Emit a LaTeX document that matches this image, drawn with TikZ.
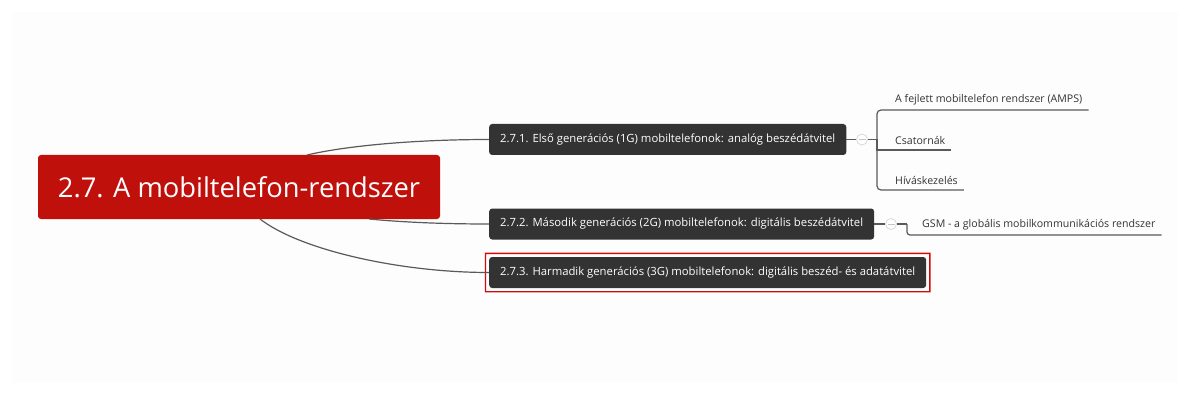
\documentclass[tikz,border=0pt]{standalone}
\usepackage{fontspec}
\setmainfont{Open Sans}
\definecolor{rootred}{RGB}{192,16,12}
\definecolor{topicgray}{RGB}{51,51,51}
\definecolor{linegray}{RGB}{90,90,90}
\definecolor{selred}{RGB}{210,10,10}
\definecolor{panelgray}{RGB}{253,253,253}
\begin{document}
\begin{tikzpicture}[x=1pt, y=-1pt,
  root/.style={fill=rootred, text=white, rounded corners=3pt, minimum width=402pt, minimum height=64pt, font=\fontsize{27.3}{32}\selectfont},
  topic/.style={anchor=west, fill=topicgray, text=white, rounded corners=3pt, inner xsep=11pt, minimum height=31pt, font=\fontsize{11.3}{13}\selectfont},
  leaf/.style={anchor=south west, inner xsep=6pt, inner ysep=5pt, text=topicgray, font=\fontsize{10.6}{12}\selectfont},
  branch/.style={draw=linegray, line width=1.2pt},
  fold/.style={circle, fill=white, draw=gray!30, line width=0.8pt, minimum size=11pt, inner sep=0pt},
  foldmark/.style={draw=gray!45, line width=0.8pt},
]
  \useasboundingbox (0,0) rectangle (1201,406);
  \fill[white] (0,0) rectangle (1201,406);
  \fill[panelgray] (12,12) rectangle (1178,383);

  \node[root] (R) at (239,187) {2.7. A mobiltelefon-rendszer};

  \node[topic] (G1) at (489,139.5) {2.7.1. Első generációs (1G) mobiltelefonok: analóg beszédátvitel};
  \node[topic] (G2) at (489,224) {2.7.2. Második generációs (2G) mobiltelefonok: digitális beszédátvitel};
  \node[topic] (G3) at (489,272.5) {2.7.3. Harmadik generációs (3G) mobiltelefonok: digitális beszéd- és adatátvitel};
  % selection frame
  \fill[selred, even odd rule]
    ([xshift=-4.2pt, yshift=4.2pt]G3.north west) rectangle ([xshift=4.2pt, yshift=-4.2pt]G3.south east)
    ([xshift=-2.8pt, yshift=2.8pt]G3.north west) rectangle ([xshift=2.8pt, yshift=-2.8pt]G3.south east);

  \coordinate (r1) at (307,155);
  \coordinate (r2) at (369,219);
  \coordinate (r3) at (260,219);
  \draw[branch] (r1) .. controls (350,145) and (420,139.5) .. (G1.west);
  \draw[branch] (r2) .. controls (400,222) and (440,224) .. (G2.west);
  \draw[branch] (r3) .. controls (300,250) and (400,272.5) .. (G3.west);

  \node[fold] (F1) at (862,139.5) {};
  \node[fold] (F2) at (891,224) {};
  \coordinate (b1) at (877,139.5);
  \coordinate (b2) at (907,224);

  \node[leaf] (A1) at (889,110) {A fejlett mobiltelefon rendszer (AMPS)};
  \node[leaf] (A2) at (889,150) {Csatornák};
  \node[leaf] (A3) at (889,190) {Híváskezelés};
  \node[leaf] (A4) at (916,235) {GSM - a globális mobilkommunikációs rendszer};

  \draw[branch] (G1.east) -- (F1.west);
  \draw[branch] (F1.east) -- (b1);
  \draw[branch, rounded corners=4pt] (b1) |- (A1.south west) -- (A1.south east);
  \draw[branch, rounded corners=4pt] (b1) |- (A3.south west) -- (A3.south east);
  \draw[branch] (b1) |- (A2.south west) -- (A2.south east);
  \draw[foldmark] ([xshift=-3.5pt]F1.center) -- ([xshift=3.5pt]F1.center);

  \draw[branch] (G2.east) -- (F2.west);
  \draw[branch] (F2.east) -- (b2);
  \draw[branch, rounded corners=3pt] (b2) |- (A4.south west) -- (A4.south east);
  \draw[foldmark] ([xshift=-3.5pt]F2.center) -- ([xshift=3.5pt]F2.center);
\end{tikzpicture}
\end{document}
